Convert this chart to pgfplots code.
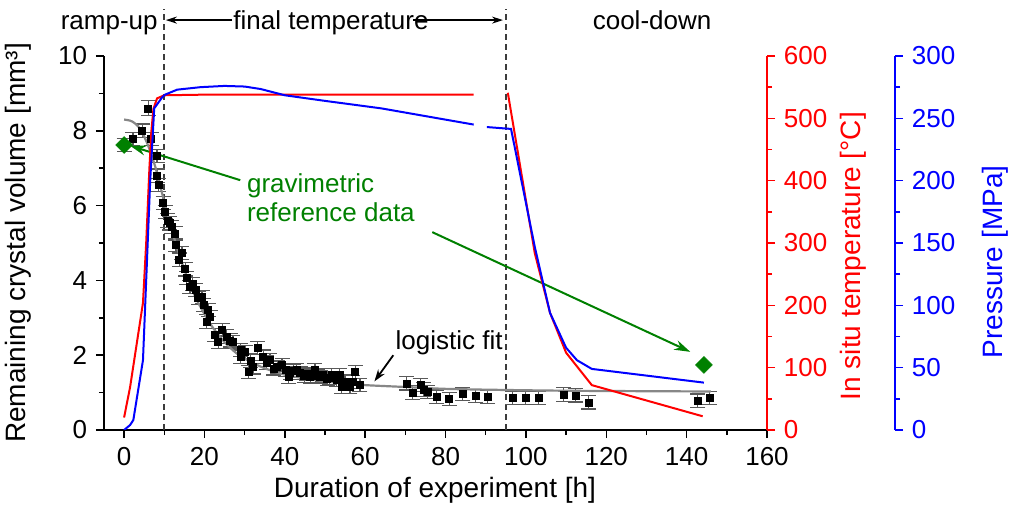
\documentclass[border=0pt]{standalone}
\usepackage{pgfplots}
\pgfplotsset{compat=1.18}
\usetikzlibrary{arrows.meta}
\usepackage{fontspec}
\setmainfont{Liberation Sans}
\definecolor{cgreen}{RGB}{0,128,0}
\definecolor{cred}{RGB}{255,0,0}
\definecolor{cblue}{RGB}{0,0,255}
\definecolor{cgrey}{RGB}{135,135,135}
\definecolor{cdash}{RGB}{60,60,60}
\begin{document}
\fontsize{26bp}{30bp}\selectfont
\begin{tikzpicture}
\pgfplotsset{
  common/.style={
    scale only axis, width=663bp, height=374bp,
    xmin=-5, xmax=160, ymin=0, ymax=10,
    /pgf/number format/assume math mode=true,
    tick label style={font=\fontsize{26bp}{30bp}\selectfont},
    label style={font=\fontsize{28bp}{32bp}\selectfont},
    major tick length=8bp, minor tick length=5bp,
    tick align=outside,
    x axis line style={-, line width=2bp},
    y axis line style={-, line width=2bp},
    every tick/.style={line width=1.5bp},
  }
}
% ---------------- main axis: crystal volume ----------------
\begin{axis}[common,
  axis x line*=bottom, axis y line*=left,
  xtick={0,20,...,160}, minor xtick={10,30,...,150},
  ytick={0,2,...,10}, minor ytick={1,3,...,9},
  xlabel={Duration of experiment [h]},
  ylabel={Remaining crystal volume [mm³]},
  xlabel style={at={(axis description cs:0.4992,-0.16)}, anchor=center},
  ylabel style={at={(axis description cs:-0.1297,0.5)}, anchor=center},
  clip=false,
]
\draw[cdash, line width=1.6bp, dash pattern=on 6bp off 4bp] (axis cs:10,0) -- (axis cs:10,11.25);
\draw[cdash, line width=1.6bp, dash pattern=on 6bp off 4bp] (axis cs:95,0) -- (axis cs:95,11.25);

\addplot[only marks, mark=square*, mark size=3.5bp, black,
  error bars/.cd, y dir=both, y explicit,
  error bar style={line width=1.2bp, black!65},
  error mark options={rotate=90, mark size=7.5bp, line width=1.2bp, black!65}]
coordinates {
(0,7.62) +- (0,0.18)
(2.2,7.78) +- (0,0.18) (4.5,8.0) +- (0,0.18) (6.0,8.6) +- (0,0.2) (6.7,7.78) +- (0,0.18)
(8.2,7.33) +- (0,0.18) (8.2,6.8) +- (0,0.18) (8.5,6.55) +- (0,0.18) (9.7,6.07) +- (0,0.18)
(10.2,5.83) +- (0,0.18) (10.9,5.6) +- (0,0.18) (11.4,5.53) +- (0,0.18) (11.9,5.43) +- (0,0.18)
(12.7,5.26) +- (0,0.18) (12.9,4.95) +- (0,0.18) (13.7,4.55) +- (0,0.18) (14.4,4.73) +- (0,0.18)
(15.2,4.3) +- (0,0.18) (15.6,4.06) +- (0,0.18) (16.4,3.82) +- (0,0.18) (17.0,3.9) +- (0,0.18)
(17.7,3.74) +- (0,0.18) (18.4,3.53) +- (0,0.18) (19.4,3.56) +- (0,0.18) (19.7,3.34) +- (0,0.18)
(20.6,2.9) +- (0,0.18) (20.9,3.21) +- (0,0.18) (21.4,3.02) +- (0,0.18) (22.6,2.54) +- (0,0.18)
(23.4,2.35) +- (0,0.18) (24.4,2.67) +- (0,0.18) (25.5,2.5) +- (0,0.18) (26.4,2.4) +- (0,0.18)
(27.1,2.35) +- (0,0.18) (28.9,2.14) +- (0,0.18) (28.9,1.96) +- (0,0.18) (30.1,2.09) +- (0,0.18)
(30.9,1.55) +- (0,0.18) (31.5,1.85) +- (0,0.18) (32.1,1.68) +- (0,0.18) (33.3,2.19) +- (0,0.18)
(34.6,1.96) +- (0,0.18) (35.5,1.8) +- (0,0.18) (36.3,1.87) +- (0,0.18) (37.2,1.65) +- (0,0.18)
(38.1,1.68) +- (0,0.18) (39.3,1.74) +- (0,0.18) (40.2,1.6) +- (0,0.18) (41.0,1.42) +- (0,0.18)
(41.3,1.52) +- (0,0.18) (42.2,1.58) +- (0,0.18) (43.0,1.6) +- (0,0.18) (43.8,1.52) +- (0,0.18)
(44.8,1.45) +- (0,0.18) (45.5,1.5) +- (0,0.18) (46.3,1.42) +- (0,0.18) (47.5,1.6) +- (0,0.18)
(48.2,1.45) +- (0,0.18) (48.8,1.42) +- (0,0.18) (49.5,1.47) +- (0,0.18) (50.5,1.38) +- (0,0.18)
(51.2,1.39) +- (0,0.18) (51.7,1.47) +- (0,0.18) (52.8,1.35) +- (0,0.18) (53.7,1.47) +- (0,0.18)
(54.2,1.15) +- (0,0.18) (55.0,1.3) +- (0,0.18) (56.2,1.15) +- (0,0.18) (56.8,1.28) +- (0,0.18)
(57.5,1.55) +- (0,0.18) (58.7,1.2) +- (0,0.18)
(70.3,1.25) +- (0,0.18) (71.8,1.0) +- (0,0.18) (73.7,1.2) +- (0,0.18) (74.6,1.08) +- (0,0.18)
(75.6,1.02) +- (0,0.18) (77.8,0.89) +- (0,0.18) (80.9,0.83) +- (0,0.18) (84.3,0.96) +- (0,0.18)
(87.4,0.91) +- (0,0.18) (90.5,0.89) +- (0,0.18)
(96.7,0.86) +- (0,0.18) (99.9,0.86) +- (0,0.18) (103.1,0.86) +- (0,0.18) (109.3,0.95) +- (0,0.18)
(112.4,0.93) +- (0,0.18) (115.6,0.74) +- (0,0.18) (142.8,0.78) +- (0,0.18) (145.7,0.86) +- (0,0.18)
};

\addplot[cgrey, line width=2.2bp, smooth] coordinates {
(0,8.3) (2,8.25) (4,8.05) (6,7.6) (8,6.95) (10,6.1) (12,5.3) (14,4.6) (16,4.0) (18,3.5)
(20,3.1) (22,2.75) (25,2.35) (28,2.05) (31,1.85) (35,1.65) (40,1.48) (45,1.38) (50,1.3)
(55,1.25) (60,1.2) (70,1.15) (80,1.1) (95,1.07) (110,1.05) (125,1.04) (146,1.03)
};

\addplot[only marks, mark=square*, mark size=6bp, mark options={rotate=45}, cgreen] coordinates {(0,7.62) (144.3,1.74)};

\draw[cgreen, line width=2bp, -{Stealth[length=16bp, width=10bp]}] (axis cs:28.9,6.68) -- (axis cs:1.5,7.6);
\draw[cgreen, line width=2bp, -{Stealth[length=16bp, width=10bp]}] (axis cs:76.7,5.29) -- (axis cs:140.9,2.09);
\node[cgreen, align=left, anchor=west, font=\fontsize{26bp}{29bp}\selectfont] at (axis cs:28.4,6.2) {gravimetric\\reference data};

\draw[black, line width=1.8bp, -{Stealth[length=12bp, width=8bp]}] (axis cs:67,2.0) -- (axis cs:62.3,1.3);
\node[anchor=base, font=\fontsize{26bp}{30bp}\selectfont] at (axis cs:80.9,2.14) {logistic fit};

\node[anchor=base, font=\fontsize{26bp}{30bp}\selectfont] at (axis cs:-3.7,10.72) {ramp-up};
\node[anchor=base, font=\fontsize{26bp}{30bp}\selectfont] at (axis cs:51.5,10.72) {final temperature};
\node[anchor=base, font=\fontsize{26bp}{30bp}\selectfont] at (axis cs:131.4,10.72) {cool-down};
\draw[black, line width=1.5bp, -{Stealth[length=11bp, width=7bp]}] (axis cs:26.9,10.96) -- (axis cs:10.4,10.96);
\draw[black, line width=1.5bp, -{Stealth[length=11bp, width=7bp]}] (axis cs:72,10.96) -- (axis cs:94.3,10.96);
\end{axis}

% ---------------- temperature axis ----------------
\begin{axis}[common, ymin=0, ymax=600,
  axis x line=none, axis y line*=right,
  ytick={0,100,...,600}, minor ytick={50,150,...,550},
  y axis line style={cred}, every tick/.append style={cred},
  yticklabel style={cred},
  ylabel={In situ temperature [°C]},
  ylabel style={cred, at={(axis description cs:1.1297,0.465)}, anchor=center},
]
\addplot[cred, line width=2bp] coordinates {
(0,20) (1.5,69) (4.7,204) (5.5,300) (6.3,420) (6.8,480) (7.3,515) (8.2,532) (10,537) (20,538) (87,538)
};
\addplot[cred, line width=2bp] coordinates {
(95.5,541) (102.2,284) (106,188) (110,124) (116.4,72) (144,22)
};
\end{axis}

% ---------------- pressure axis ----------------
\begin{axis}[common, width=791bp, xmax=191.86, ymin=0, ymax=300,
  axis x line=none, axis y line*=right,
  ytick={0,50,...,300}, minor ytick={25,75,...,275},
  y axis line style={cblue}, every tick/.append style={cblue},
  yticklabel style={cblue},
  ylabel={Pressure [MPa]},
  ylabel style={cblue, at={(axis description cs:1.1264,0.449)}, anchor=center},
]
\addplot[cblue, line width=2bp] coordinates {
(0,0) (1.5,4) (2.3,8) (4.7,56) (6.5,200) (7.5,258) (9.5,267) (10.2,269) (13.2,273) (19,275)
(25,276) (30,275.5) (34,273.5) (37,271) (40,268.5) (50,264) (64,258) (87,245)
};
\addplot[cblue, line width=2bp] coordinates {
(90.3,243) (96.3,241.5) (102.2,147) (106,94) (110,66) (112.7,56) (116.4,49) (144.3,38)
};
\end{axis}
\pgfresetboundingbox
\path[use as bounding box] (-104bp,-76bp) rectangle (918bp,430bp);
\end{tikzpicture}
\end{document}
